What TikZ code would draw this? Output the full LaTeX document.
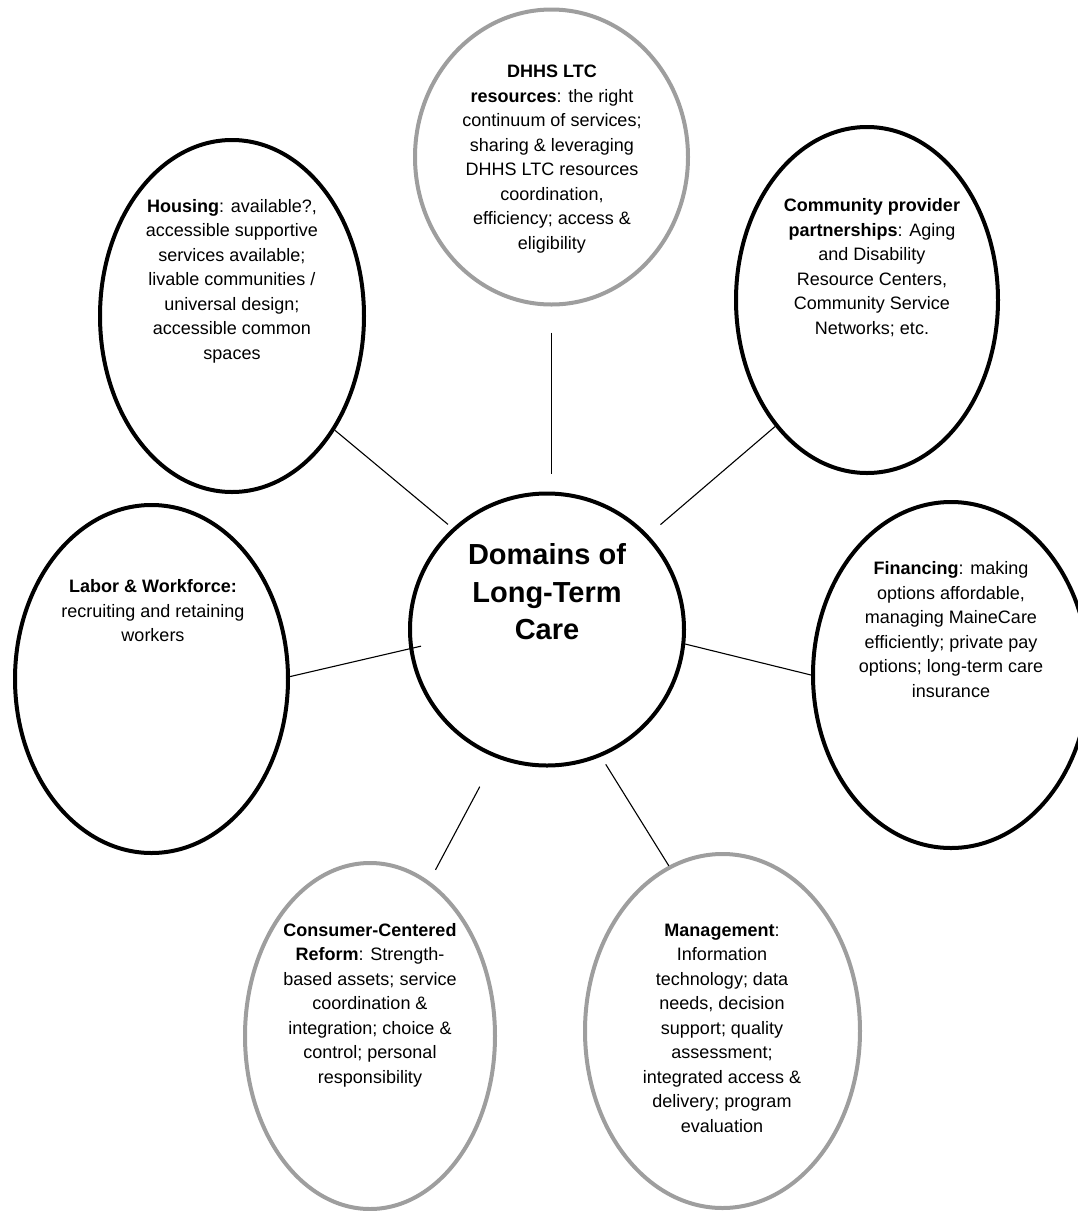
\documentclass[tikz,border=0pt]{standalone}
\usepackage{fontspec}
\setmainfont{Liberation Sans}
\usepackage{tikz}
\usetikzlibrary{shapes.geometric}

\begin{document}
\begin{tikzpicture}[x=1pt,y=-1pt,
  dark/.style={ellipse,draw=black,line width=4pt,inner sep=0pt},
  pale/.style={ellipse,draw=black!38,line width=4pt,inner sep=0pt},
  txt/.style={align=center,inner sep=0pt,font=\fontsize{18}{24.5}\selectfont},
  spoke/.style={line width=1.1pt}]
\path[use as bounding box] (0,0) rectangle (1078,1211);
\clip (0,0) rectangle (1078,1211);

\node[dark,minimum width=274pt,minimum height=272pt] (dom) at (547,629.5) {};
\node[pale,minimum width=273pt,minimum height=295pt] (res) at (551.5,157) {};
\node[dark,minimum width=264pt,minimum height=352pt] (hou) at (232,316) {};
\node[dark,minimum width=262pt,minimum height=346pt] (com) at (867,300) {};
\node[dark,minimum width=273pt,minimum height=348pt] (lab) at (151.5,679) {};
\node[dark,minimum width=276pt,minimum height=346pt] (fin) at (951,675) {};
\node[pale,minimum width=250pt,minimum height=346pt] (con) at (370,1036) {};
\node[pale,minimum width=275pt,minimum height=354pt] (man) at (722.5,1031) {};

\node[align=center,inner sep=0pt,font=\fontsize{29}{37.5}\selectfont\bfseries] (tdom) at (547,592) {Domains of\\Long-Term\\Care};
\node[txt] (tres) at (552,159) {\textbf{DHHS LTC}\\\textbf{resources}: the right\\continuum of services;\\sharing \& leveraging\\DHHS LTC resources\\coordination,\\efficiency; access \&\\eligibility};
\node[txt] (thou) at (232,281) {\textbf{Housing}: available?,\\accessible supportive\\services available;\\livable communities /\\universal design;\\accessible common\\spaces};
\node[txt] (tcom) at (872,267.5) {\textbf{Community provider}\\\textbf{partnerships}: Aging\\and Disability\\Resource Centers,\\Community Service\\Networks; etc.};
\node[txt] (tlab) at (153,611) {\textbf{Labor \& Workforce:}\\recruiting and retaining\\workers};
\node[txt] (tfin) at (951,629.5) {\textbf{Financing}: making\\options affordable,\\managing MaineCare\\efficiently; private pay\\options; long-term care\\insurance};
\node[txt] (tcon) at (370,1005) {\textbf{Consumer-Centered}\\\textbf{Reform}: Strength-\\based assets; service\\coordination \&\\integration; choice \&\\control; personal\\responsibility};
\node[txt] (tman) at (722,1028) {\textbf{Management}:\\Information\\technology; data\\needs, decision\\support; quality\\assessment;\\integrated access \&\\delivery; program\\evaluation};

\draw[spoke,shorten <=26pt,shorten >=18pt] (res.south) -- (res.south |- dom.north);
\draw[spoke,shorten >=6pt] (hou.-48) -- (dom.133);
\draw[spoke,shorten >=16pt] (com.234) -- (dom.43);
\draw[spoke,shorten >=-12pt] (lab.1) -- (dom.188);
\draw[spoke] (dom.-6) -- (fin.180);
\draw[spoke,shorten <=33pt,shorten >=13pt] (dom.248) -- (con.69);
\draw[spoke,shorten <=9pt] (dom.-67) -- (man.108);
\end{tikzpicture}
\end{document}
